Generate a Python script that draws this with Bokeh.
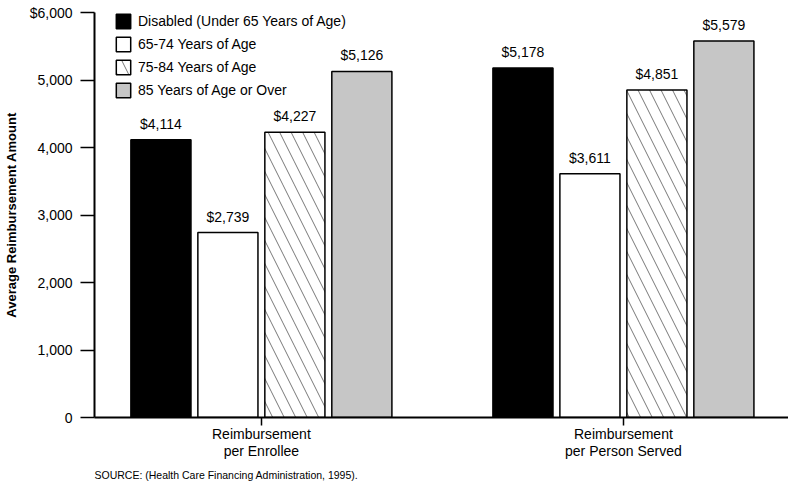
from bokeh.plotting import figure
from bokeh.models import FixedTicker, Range1d, Legend, LegendItem, Title, ColumnDataSource, NumeralTickFormatter
from bokeh.core.properties import value
from bokeh.embed import file_html
from bokeh.resources import INLINE

categories = ["Reimbursement\nper Enrollee", "Reimbursement\nper Person Served"]
series = ["Disabled (Under 65 Years of Age)", "65-74 Years of Age", "75-84 Years of Age", "85 Years of Age or Over"]
disabled = [4114, 5178]
age_65_74 = [2739, 3611]
age_75_84 = [4227, 4851]
age_85_plus = [5126, 5579]
y_ticks = [0, 1000, 2000, 3000, 4000, 5000, 6000]
source_note = "SOURCE: (Health Care Financing Administration, 1995)."

values = [disabled, age_65_74, age_75_84, age_85_plus]
offsets = [-0.2775, -0.0925, 0.0925, 0.2775]
bar_w = 0.166
styles = [
    dict(fill_color="black"),
    dict(fill_color="white"),
    dict(fill_color="white", hatch_pattern="\\", hatch_scale=23, hatch_weight=0.8, hatch_color="#555555"),
    dict(fill_color="#c6c6c6"),
]

FONT = "Liberation Sans"

p = figure(frame_width=694, frame_height=405, output_backend="svg", toolbar_location=None,
           x_range=Range1d(0.539, 2.456), y_range=Range1d(0, 6000),
           min_border_left=88, min_border_right=0, min_border_top=12, min_border_bottom=70)
p.outline_line_color = None
p.grid.visible = False
p.background_fill_color = "white"

legend_items = []
for j, vals in enumerate(values):
    xs = [i + 1 + offsets[j] for i in range(len(categories))]
    src = ColumnDataSource(dict(x=xs, top=vals, lab=["${:,}".format(v) for v in vals]))
    r = p.vbar(x="x", top="top", width=bar_w, source=src, line_color="black", line_width=1.5, **styles[j])
    legend_items.append(LegendItem(label=series[j], renderers=[r]))
    p.text(x="x", y="top", text="lab", source=src, text_align="center", text_baseline="bottom",
           y_offset=-8, text_font=value(FONT), text_font_size="14px", text_color="black")

legend = Legend(items=legend_items, location=(20, 318), padding=0, margin=0, spacing=5,
                glyph_width=18, glyph_height=18, label_height=18, label_standoff=6,
                label_text_font=FONT, label_text_font_size="14px", label_text_color="black",
                border_line_color=None, background_fill_alpha=0)
p.add_layout(legend, "center")

# y axis
yax = p.yaxis[0]
yax.ticker = FixedTicker(ticks=y_ticks)
yax.formatter = NumeralTickFormatter(format="0,0")
yax.major_label_overrides = {6000: "$6,000"}
yax.minor_tick_line_color = None
yax.major_tick_out = 14
yax.major_tick_in = 0
yax.major_tick_line_width = 1.5
yax.axis_line_width = 2
yax.major_label_standoff = 8
yax.major_label_text_font = FONT
yax.major_label_text_font_size = "14px"
yax.major_label_text_color = "black"
yax.axis_label = "Average Reimbursement Amount"
yax.axis_label_text_font = FONT
yax.axis_label_text_font_size = "13px"
yax.axis_label_text_font_style = "bold"
yax.axis_label_text_color = "black"
yax.axis_label_standoff = 8

# x axis
xax = p.xaxis[0]
xax.ticker = FixedTicker(ticks=[1, 2])
xax.major_label_overrides = {i + 1: c for i, c in enumerate(categories)}
xax.minor_tick_line_color = None
xax.major_tick_out = 8
xax.major_tick_in = 0
xax.major_tick_line_width = 1.5
xax.axis_line_width = 2
xax.major_label_standoff = 0
xax.major_label_text_font = FONT
xax.major_label_text_font_size = "14px"
xax.major_label_text_color = "black"
xax.major_label_text_line_height = 1.1

note = Title(text=source_note, align="left", text_font=FONT, text_font_size="10.5px",
             text_font_style="normal", text_color="black", standoff=9)
p.add_layout(note, "below")

open("out.html", "w").write(file_html(p, INLINE))
